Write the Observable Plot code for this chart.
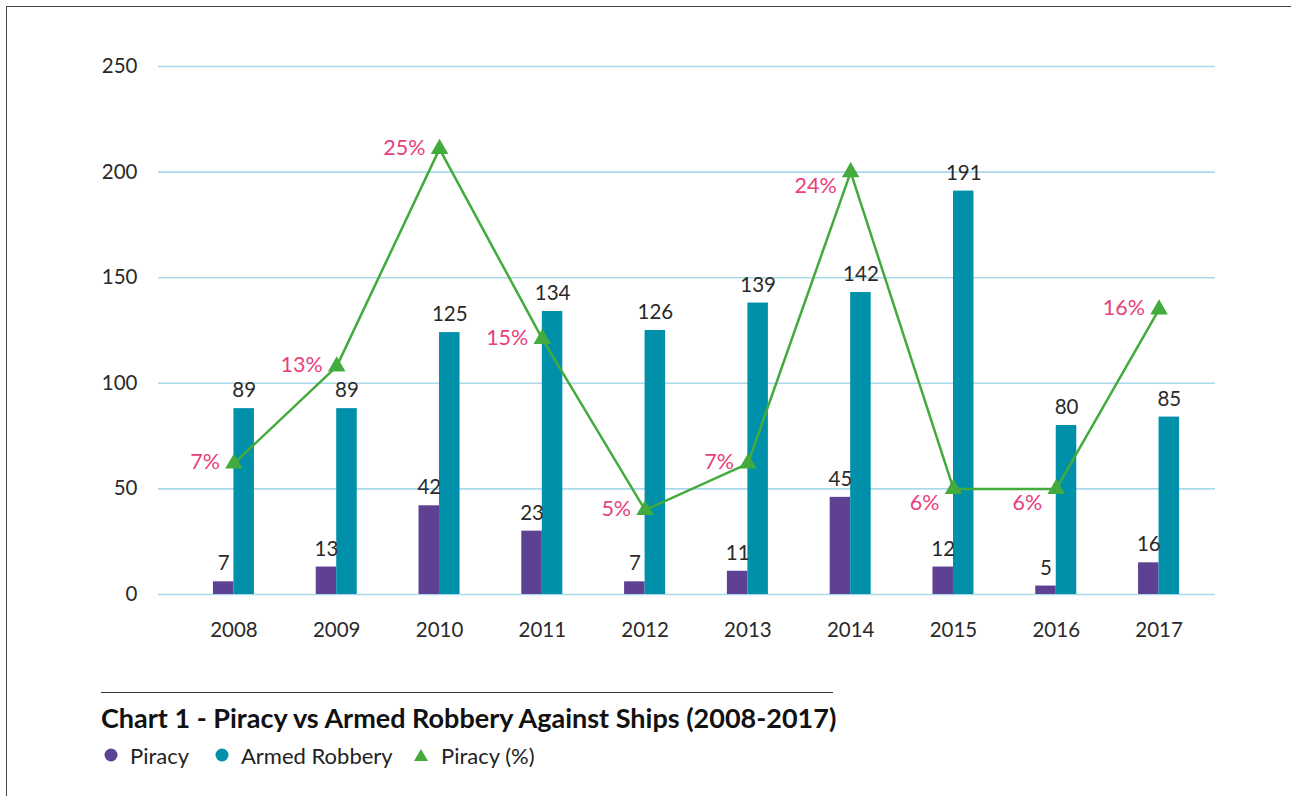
<!DOCTYPE html>
<html>
<head>
<meta charset="utf-8">
<script src="https://cdn.jsdelivr.net/npm/d3@7"></script>
<script src="https://cdn.jsdelivr.net/npm/@observablehq/plot@0.6"></script>
<style>
  html, body { margin: 0; padding: 0; background: #fff; overflow: hidden; }
  body { width: 1291px; height: 796px; position: relative; font-family: Lato, sans-serif; }
  .frame { position: absolute; left: 6px; top: 6px; width: 1300px; height: 800px;
           border-left: 1.5px solid #444; border-top: 1.5px solid #444; }
  #chart { position: absolute; left: 0; top: 0; }
  .sep { position: absolute; left: 101px; top: 692px; width: 732px; height: 0; border-top: 1.5px solid #333; }
  .title { position: absolute; left: 101px; top: 701px; font-family: Lato, sans-serif; font-weight: 700;
           font-size: 27px; color: #111; white-space: nowrap; }
  .legend { position: absolute; left: 103px; top: 741px; height: 28px; font-size: 22px; color: #222; white-space: nowrap; }
  .legend .item { position: absolute; top: 0; display: flex; align-items: center; height: 28px; }
  .legend .sw { margin-right: 12px; }
</style>
</head>
<body>
<div class="frame"></div>
<div id="chart"></div>
<div class="sep"></div>
<div class="title">Chart 1 - Piracy vs Armed Robbery Against Ships (2008-2017)</div>
<div class="legend" id="legend"></div>
<script>
const years = ["2008","2009","2010","2011","2012","2013","2014","2015","2016","2017"];
const piracy = [6, 13, 42, 30, 6, 11, 46, 13, 4, 15];
const piracyLabels = ["7","13","42","23","7","11","45","12","5","16"];
const armedRobbery = [88, 88, 124, 134, 125, 138, 143, 191, 80, 84];
const armedLabels = ["89","89","125","134","126","139","142","191","80","85"];
const piracyPctPos = [62, 108, 211, 121, 40, 62, 200, 50, 50, 135];
const piracyPctLabels = ["7%","13%","25%","15%","5%","7%","24%","6%","6%","16%"];
const yTicks = [0, 50, 100, 150, 200, 250];

const seriesNames = ["Piracy", "Armed Robbery", "Piracy (%)"];
const colors = {piracy: "#5e4192", armed: "#0090a9", line: "#43ab3d", pct: "#e8407c", grid: "#a9d9ea", text: "#2a2a2a"};

const data = years.map((y, i) => ({
  year: y, piracy: piracy[i], pLabel: piracyLabels[i],
  armed: armedRobbery[i], aLabel: armedLabels[i],
  pct: piracyPctPos[i], pctLabel: piracyPctLabels[i]
}));

// label placement style for the % labels (below-left vs left)
const belowYears = new Set(["2014", "2015", "2016"]);
const half = 20.5;

const chart = Plot.plot({
  width: 1291,
  height: 660,
  marginLeft: 158,
  marginRight: 76,
  marginTop: 66,
  marginBottom: 66,
  style: {fontFamily: "Lato, sans-serif", fontSize: "20px", color: colors.text, background: "transparent"},
  x: {type: "band", domain: years, range: [182.1, 1209.9], paddingInner: 0.601, paddingOuter: 0.3, align: 0.5, round: false},
  y: {domain: [0, 250]},
  marks: [
    Plot.ruleY(yTicks, {stroke: colors.grid, strokeWidth: 1.6}),
    Plot.axisY({ticks: yTicks, tickSize: 0, tickPadding: 21, fontSize: 20.5, label: null}),
    Plot.axisX({tickSize: 0, tickPadding: 28, fontSize: 20.5, label: null}),
    Plot.barY(data, {x: "year", y: "piracy", fill: colors.piracy, insetRight: half}),
    Plot.barY(data, {x: "year", y: "armed", fill: colors.armed, insetLeft: half}),
    Plot.text(data, {x: "year", y: "piracy", text: "pLabel", dx: -half / 2, dy: -18, fill: colors.text, fontSize: 20.5}),
    Plot.text(data, {x: "year", y: "armed", text: "aLabel", dx: half / 2, dy: -18, fill: colors.text, fontSize: 20.5}),
    Plot.line(data, {x: "year", y: "pct", stroke: colors.line, strokeWidth: 2.5}),
    Plot.dot(data, {x: "year", y: "pct", symbol: "triangle", r: 6.5, fill: colors.line, stroke: null}),
    Plot.text(data.filter(d => !belowYears.has(d.year)), {x: "year", y: "pct", text: "pctLabel", textAnchor: "end", dx: -14, dy: -1, fill: colors.pct, fontSize: 21.5}),
    Plot.text(data.filter(d => belowYears.has(d.year)), {x: "year", y: "pct", text: "pctLabel", textAnchor: "end", dx: -14, dy: 14, fill: colors.pct, fontSize: 21.5})
  ]
});
document.getElementById("chart").appendChild(chart);

// legend
const legend = document.getElementById("legend");
const swatches = [
  `<svg class="sw" width="14" height="14"><circle cx="7" cy="7" r="6.5" fill="${colors.piracy}"/></svg>`,
  `<svg class="sw" width="14" height="14"><circle cx="7" cy="7" r="6.5" fill="${colors.armed}"/></svg>`,
  `<svg class="sw" width="16" height="14"><path d="M8 1 L15 13 L1 13 Z" fill="${colors.line}"/></svg>`
];
const legendLeft = [1, 112, 310];
seriesNames.forEach((name, i) => {
  const el = document.createElement("div");
  el.className = "item";
  el.style.left = legendLeft[i] + "px";
  el.innerHTML = swatches[i] + `<span>${name}</span>`;
  legend.appendChild(el);
});
</script>
</body>
</html>
